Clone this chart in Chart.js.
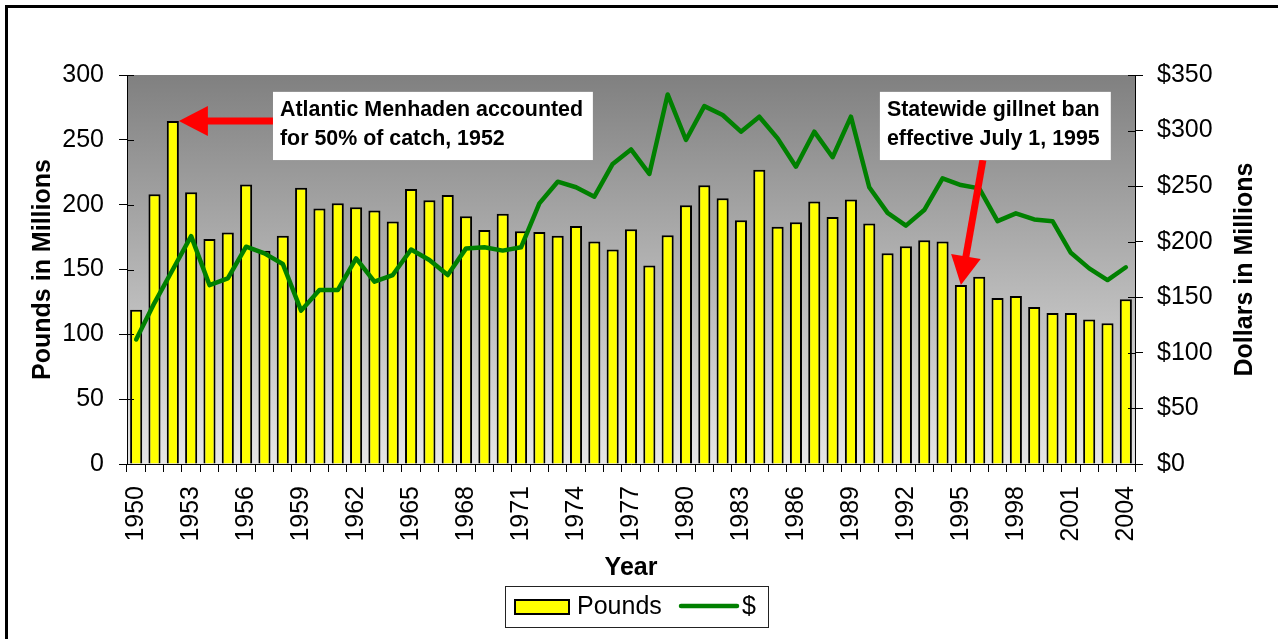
<!DOCTYPE html>
<html><head><meta charset="utf-8">
<script src="https://cdn.jsdelivr.net/npm/chart.js@4/dist/chart.umd.min.js"></script>
<style>html,body{margin:0;padding:0;background:#fff;}canvas{display:block;}</style>
</head><body>
<canvas id="c" width="1278" height="639"></canvas>
<script>
const years = [1950,1951,1952,1953,1954,1955,1956,1957,1958,1959,
  1960,1961,1962,1963,1964,1965,1966,1967,1968,1969,
  1970,1971,1972,1973,1974,1975,1976,1977,1978,1979,
  1980,1981,1982,1983,1984,1985,1986,1987,1988,1989,
  1990,1991,1992,1993,1994,1995,1996,1997,1998,1999,
  2000,2001,2002,2003,2004];
const pounds = [119,208,264.5,209.5,173.5,178.5,215.5,164.5,176,213,
  197,201,198,195.5,187,212,203.5,207.5,191,180.5,
  193,179.5,179,176,183.5,171.5,165.5,181,153,176.5,
  199.5,215,205,188,227,183,186.5,202.5,190.5,204,
  185.5,162.5,168,172.5,171.5,138,144.5,128,129.5,121,
  116.5,116.5,111.5,108.5,127];
const dollars = [112,145,175,205,161,167,195.5,189.5,180,138,
  156.5,156.5,185,164,170,193,183.5,170,194,195,
  192,195,234.5,254,249,240.5,270,283,261,332.5,
  291.5,322,314,299,312.5,293,267.5,299,276,312.5,
  249,226,214.5,228.5,257,251,248,218.5,225.5,220,
  218.5,190,176,165.5,177];
const seriesNames = ['Pounds', '$'];
const axisTitles = {x: 'Year', left: 'Pounds in Millions', right: 'Dollars in Millions'};
const note1 = ['Atlantic Menhaden accounted', 'for 50% of catch, 1952'];
const note2 = ['Statewide gillnet ban', 'effective July 1, 1995'];
const note1Year = 1952, note2Year = 1995;

const FONT = "'Liberation Sans', Arial, sans-serif";
Chart.defaults.font.family = FONT;
Chart.defaults.color = '#000';

const bgPlugin = {
  id: 'bg',
  beforeDraw(chart) {
    const {ctx, chartArea: a} = chart;
    ctx.save();
    ctx.fillStyle = '#fff';
    ctx.fillRect(0, 0, chart.width, chart.height);
    const g = ctx.createLinearGradient(0, a.top, 0, a.bottom);
    g.addColorStop(0, '#808080');
    g.addColorStop(1, '#e6e6e6');
    ctx.fillStyle = g;
    ctx.fillRect(a.left, a.top, a.right - a.left, a.bottom - a.top);
    ctx.restore();
  }
};

function arrow(ctx, x0, y0, x1, y1, headLen, headHalf, shaft) {
  const dx = x1 - x0, dy = y1 - y0, L = Math.hypot(dx, dy);
  const ux = dx / L, uy = dy / L, px = -uy, py = ux;
  const bx = x1 - ux * headLen, by = y1 - uy * headLen;
  ctx.strokeStyle = '#ff0000';
  ctx.lineWidth = shaft;
  ctx.lineCap = 'butt';
  ctx.beginPath(); ctx.moveTo(x0, y0); ctx.lineTo(bx + ux, by + uy); ctx.stroke();
  ctx.fillStyle = '#ff0000';
  ctx.beginPath();
  ctx.moveTo(x1, y1);
  ctx.lineTo(bx + px * headHalf, by + py * headHalf);
  ctx.lineTo(bx - px * headHalf, by - py * headHalf);
  ctx.closePath(); ctx.fill();
}

function noteBox(ctx, l, t, r, b, lines) {
  ctx.fillStyle = '#fff';
  ctx.fillRect(l, t, r - l, b - t);
  ctx.fillStyle = '#000';
  ctx.font = 'bold 21.4px ' + FONT;
  ctx.textAlign = 'left';
  ctx.textBaseline = 'alphabetic';
  ctx.fillText(lines[0], l + 7, t + 24);
  ctx.fillText(lines[1], l + 7, t + 53);
}

const notesPlugin = {
  id: 'notes',
  afterDatasetsDraw(chart) {
    const {ctx} = chart;
    const x = chart.scales.x, y = chart.scales.y;
    const bars = chart.getDatasetMeta(0).data;
    ctx.save();
    const l1 = x.getPixelForValue(7.465), r1 = x.getPixelForValue(24.92);
    const t = y.getPixelForValue(287), b = y.getPixelForValue(234.4);
    const bar1 = bars[years.indexOf(note1Year)];
    arrow(ctx, l1, bar1.y, bar1.x + bar1.width / 2, bar1.y, 29, 15, 7);
    noteBox(ctx, l1, t, r1, b, note1);
    const l2 = x.getPixelForValue(40.58), r2 = x.getPixelForValue(53.18);
    const bar2 = bars[years.indexOf(note2Year)];
    arrow(ctx, bar2.x + 22, b, bar2.x, bar2.y, 29, 15, 7);
    noteBox(ctx, l2, t, r2, b, note2);
    ctx.restore();
  },
  afterDraw(chart) {
    const {ctx, chartArea: a} = chart;
    ctx.save();
    ctx.strokeStyle = '#000'; ctx.lineWidth = 1;
    for (const id of ['y', 'y2']) {
      const s = chart.scales[id];
      s.ticks.forEach((tk, i) => {
        const py = Math.round(s.getPixelForTick(i)) + 0.5;
        ctx.beginPath();
        if (id === 'y') { ctx.moveTo(a.left, py); ctx.lineTo(a.left + 7, py); }
        else { ctx.moveTo(a.right - 7, py); ctx.lineTo(a.right, py); }
        ctx.stroke();
      });
    }
    ctx.fillStyle = '#000';
    ctx.font = 'bold 25px ' + FONT;
    ctx.textAlign = 'center'; ctx.textBaseline = 'middle';
    ctx.translate(chart.width - 33, (a.top + a.bottom) / 2);
    ctx.rotate(-Math.PI / 2);
    ctx.fillText(axisTitles.right, 0, 0);
    ctx.setTransform(1, 0, 0, 1, 0, 0);
    const lx = 505, ly = 586, lw = 263, lh = 41;
    ctx.fillStyle = '#fff';
    ctx.fillRect(lx, ly, lw, lh);
    ctx.strokeStyle = '#222'; ctx.lineWidth = 1;
    ctx.strokeRect(lx + 0.5, ly + 0.5, lw, lh);
    ctx.fillStyle = '#ffff00';
    ctx.fillRect(lx + 9, ly + 13, 56, 16);
    ctx.strokeStyle = '#000'; ctx.lineWidth = 2;
    ctx.strokeRect(lx + 10, ly + 14, 54, 14);
    ctx.fillStyle = '#000';
    ctx.font = '25px ' + FONT;
    ctx.textAlign = 'left'; ctx.textBaseline = 'middle';
    ctx.fillText(seriesNames[0], lx + 72, ly + 21);
    ctx.strokeStyle = '#008000'; ctx.lineWidth = 4.5; ctx.lineCap = 'round';
    ctx.beginPath(); ctx.moveTo(lx + 176, ly + 20); ctx.lineTo(lx + 232, ly + 20); ctx.stroke();
    ctx.fillText(seriesNames[1], lx + 237, ly + 21);
    ctx.strokeStyle = '#000'; ctx.lineWidth = 3;
    ctx.strokeRect(6.5, 6.5, chart.width + 20, chart.height + 20);
    ctx.restore();
  }
};

new Chart(document.getElementById('c'), {
  data: {
    labels: years,
    datasets: [
      {
        type: 'bar', label: seriesNames[0], data: pounds, yAxisID: 'y', order: 1,
        backgroundColor: '#ffff00', borderColor: '#000', borderWidth: 2,
        barPercentage: 0.66, categoryPercentage: 1
      },
      {
        type: 'line', label: seriesNames[1], data: dollars, yAxisID: 'y2', order: 0,
        borderColor: '#008000', borderWidth: 4.5, pointRadius: 0, tension: 0,
        borderJoinStyle: 'round', borderCapStyle: 'round'
      }
    ]
  },
  options: {
    responsive: false,
    animation: false,
    layout: {padding: {left: 6, top: 75, right: 0, bottom: 55}},
    plugins: {legend: {display: false}, tooltip: {enabled: false}},
    scales: {
      x: {
        type: 'category', offset: true,
        grid: {offset: true, drawOnChartArea: false, color: '#000', tickLength: 8},
        border: {display: true, color: '#000', width: 1},
        ticks: {
          autoSkip: false, maxRotation: 90, minRotation: 90, padding: 14,
          font: {size: 25},
          callback: function(v, i) { const yr = years[i]; return (yr - 1950) % 3 === 0 ? String(yr) : ''; }
        },
        title: {display: true, text: axisTitles.x, font: {size: 25, weight: 'bold'}, padding: {top: 0, bottom: 1}},
        afterFit(s) { s.height = 120; }
      },
      y: {
        position: 'left', min: 0, max: 300,
        grid: {drawOnChartArea: false, color: '#000', tickLength: 8},
        border: {display: true, color: '#000', width: 1},
        ticks: {stepSize: 50, padding: 15, font: {size: 25}},
        title: {display: true, text: axisTitles.left, font: {size: 25, weight: 'bold'}, padding: {top: 22, bottom: 0}},
        afterFit(s) { s.width = 121; }
      },
      y2: {
        position: 'right', min: 0, max: 350,
        grid: {drawOnChartArea: false, color: '#000', tickLength: 8},
        border: {display: true, color: '#000', width: 1},
        ticks: {stepSize: 50, padding: 14, font: {size: 25}, callback: v => '$' + v},
        afterFit(s) { s.width = 143; }
      }
    }
  },
  plugins: [bgPlugin, notesPlugin]
});
</script>
</body></html>
